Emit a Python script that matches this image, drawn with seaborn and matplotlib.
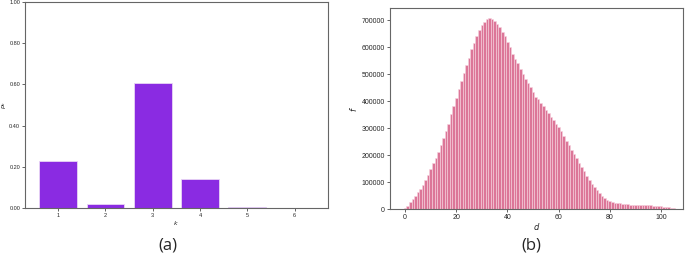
import numpy as np
import pandas as pd
import matplotlib
matplotlib.use("Agg")
import matplotlib.pyplot as plt
import seaborn as sns

# panel (a): probability per k
k_values = ["1", "2", "3", "4", "5", "6"]
p_k = [0.227, 0.022, 0.605, 0.140, 0.005, 0.0005]

# panel (b): frequency per distance d
d_values = list(range(0, 109))
f_values = [
    3000, 13000, 26000, 37000, 47000, 62000, 75000, 90000, 108000, 127000,
    148000, 170000, 190000, 213000, 237000, 264000, 290000, 315000, 352000, 383000,
    413000, 444000, 474000, 504000, 535000, 562000, 593000, 617000, 643000, 664000,
    681000, 695000, 706000, 709000, 706000, 699000, 686000, 674000, 658000, 642000,
    621000, 602000, 575000, 556000, 541000, 519000, 501000, 481000, 467000, 452000,
    435000, 417000, 407000, 393000, 383000, 368000, 356000, 343000, 331000, 316000,
    304000, 289000, 272000, 254000, 238000, 220000, 205000, 188000, 170000, 156000,
    140000, 123000, 109000, 94000, 81000, 69000, 59000, 49000, 41000, 35000,
    30000, 26000, 23000, 22000, 21000, 20000, 18500, 18000, 17000, 16500,
    16000, 15500, 15000, 15000, 14500, 14000, 13500, 13000, 12500, 12000,
    11000, 9500, 8000, 6000, 4000, 2500, 1500, 800, 300,
]

sns.set_style("ticks")
plt.rcParams["font.family"] = ["Liberation Sans", "DejaVu Sans"]

fig = plt.figure(figsize=(6.85, 2.64), dpi=100)
ax1 = fig.add_axes([0.0365, 0.212, 0.442, 0.780])
ax2 = fig.add_axes([0.569, 0.208, 0.428, 0.761])

df_a = pd.DataFrame({"k": k_values, "p": p_k})
sns.barplot(data=df_a, x="k", y="p", color="#8A2BE2", saturation=1,
            edgecolor="#e8d5f5", linewidth=0.6, width=0.8, ax=ax1)
ax1.set_xlim(-0.7, 5.7)
ax1.set_ylim(0, 1.0)
ax1.set_yticks([0, 0.2, 0.4, 0.6, 0.8, 1.0])
ax1.set_yticklabels(["%.2f" % v for v in [0, 0.2, 0.4, 0.6, 0.8, 1.0]])
ax1.set_xlabel("$k$", fontsize=4.5, labelpad=1)
ax1.set_ylabel("$p_k$", fontsize=4.5, labelpad=1)
ax1.tick_params(labelsize=4, length=2, width=0.5, pad=1.5)

df_b = pd.DataFrame({"d": d_values, "f": f_values})
sns.histplot(data=df_b, x="d", weights="f", discrete=True, color="#DB6F93",
             alpha=0.95, edgecolor="#f7d3df", linewidth=0.4, ax=ax2)
ax2.set_xlim(-6, 108.6)
ax2.set_ylim(0, 745000)
ax2.set_yticks(range(0, 800000, 100000))
ax2.set_xlabel("$d$", fontsize=6, labelpad=0)
ax2.set_ylabel("$f$", fontsize=6, labelpad=2)
ax2.tick_params(labelsize=5, length=2, width=0.5, pad=1.5)

for ax in (ax1, ax2):
    for s in ax.spines.values():
        s.set_color("#666666")
        s.set_linewidth(0.8)

fig.text(0.245, 0.07, "(a)", fontsize=12, ha="center", va="center",
         family=["Open Sans", "DejaVu Sans"])
fig.text(0.775, 0.07, "(b)", fontsize=12, ha="center", va="center",
         family=["Open Sans", "DejaVu Sans"])

fig.savefig("out.png", dpi=100)
